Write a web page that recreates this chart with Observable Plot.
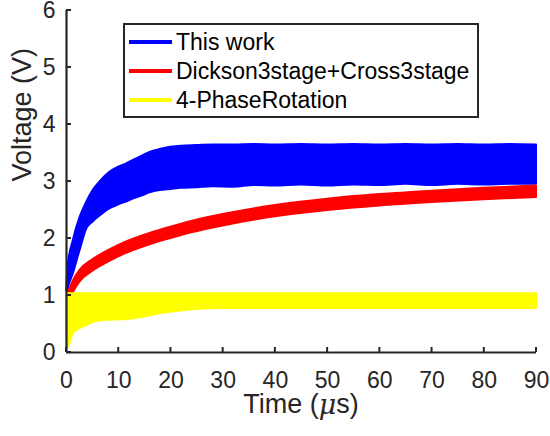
<!DOCTYPE html>
<html>
<head>
<meta charset="utf-8">
<script src="https://cdn.jsdelivr.net/npm/d3@7"></script>
<script src="https://cdn.jsdelivr.net/npm/@observablehq/plot@0.6"></script>
<style>
  html, body { margin: 0; padding: 0; background: #fff; }
  #chart svg { display: block; overflow: visible; }
</style>
</head>
<body>
<div id="chart"></div>
<script>
// ---- data ----
const seriesNames = ["This work", "Dickson3stage+Cross3stage", "4-PhaseRotation"];
const seriesColors = ["#0000ff", "#ff0000", "#ffff00"];

// "This work": envelope of the oscillating output (min / max)
const blueT    = [0, 0.3, 1.3, 2.6, 3.9, 5.1, 6.5, 8.3, 10, 11.5, 13, 14.6, 16, 17.9, 20, 22, 25, 28, 32, 36, 40, 45, 50, 55, 60, 65, 70, 75, 80, 85, 90];
const blueHigh = [1.0, 1.5, 1.96, 2.37, 2.64, 2.84, 3.0, 3.16, 3.25, 3.31, 3.38, 3.45, 3.51, 3.56, 3.6, 3.62, 3.63, 3.64, 3.64, 3.65, 3.64, 3.65, 3.64, 3.65, 3.64, 3.65, 3.64, 3.65, 3.64, 3.65, 3.64];
const blueLow  = [0.95, 1.1, 1.38, 1.79, 2.17, 2.29, 2.4, 2.52, 2.59, 2.64, 2.70, 2.75, 2.8, 2.84, 2.86, 2.88, 2.89, 2.91, 2.90, 2.93, 2.92, 2.94, 2.92, 2.94, 2.93, 2.95, 2.93, 2.95, 2.94, 2.95, 2.95];

// "Dickson3stage+Cross3stage": thick trace (lower / upper edge)
const redT    = [0, 0.3, 0.6, 1.3, 2.6, 5.1, 8.3, 11.5, 16, 20, 24, 30, 40, 50, 60, 70, 80, 90];
const redLow  = [0.35, 0.8, 0.92, 1.05, 1.24, 1.43, 1.6, 1.74, 1.89, 2.0, 2.1, 2.22, 2.38, 2.49, 2.57, 2.63, 2.68, 2.72];
const redHigh = [1.0, 1.05, 1.1, 1.25, 1.44, 1.63, 1.80, 1.94, 2.09, 2.2, 2.3, 2.42, 2.58, 2.69, 2.77, 2.83, 2.88, 2.92];

// "4-PhaseRotation": envelope
const yelT    = [0, 0.4, 1.3, 2.6, 3.9, 5.1, 7, 11.5, 14.6, 17.9, 21, 24.2, 30, 60, 90];
const yelLow  = [0.08, 0.1, 0.33, 0.42, 0.47, 0.53, 0.56, 0.58, 0.62, 0.68, 0.72, 0.75, 0.77, 0.77, 0.77];
const yelHigh = [1.05, 1.03, 1.03, 1.03, 1.03, 1.03, 1.03, 1.03, 1.03, 1.03, 1.03, 1.03, 1.03, 1.03, 1.03];

const xTicks = [0, 10, 20, 30, 40, 50, 60, 70, 80, 90];
const yTicks = [0, 1, 2, 3, 4, 5, 6];
const xLabel = "Time (";
const xLabelMu = "μ";
const xLabelEnd = "s)";
const yLabel = "Voltage (V)";

// ---- build tables ----
const toRows = (T, lo, hi) => T.map((t, i) => ({t, lo: lo[i], hi: hi[i]}));
const blue = toRows(blueT, blueLow, blueHigh);
const red = toRows(redT, redLow, redHigh);
const yel = toRows(yelT, yelLow, yelHigh);

const axisColor = "#262626";
const font = "'Liberation Sans', Arial, Helvetica, sans-serif";

const band = (data, color) => Plot.areaY(data, {
  x: "t", y1: "lo", y2: "hi", fill: color, stroke: color, strokeWidth: 2, strokeLinejoin: "round", curve: "monotone-x"
});

const plot = Plot.plot({
  width: 550,
  height: 436,
  marginLeft: 66,
  marginRight: 14,
  marginTop: 10,
  marginBottom: 84,
  style: {fontFamily: font, background: "#fff", color: axisColor},
  x: {domain: [0, 90]},
  y: {domain: [0, 6]},
  marks: [
    band(blue, seriesColors[0]),
    band(red, seriesColors[1]),
    band(yel, seriesColors[2]),
    // axis lines
    Plot.ruleY([0], {stroke: axisColor, strokeWidth: 2.2}),
    Plot.ruleX([0], {stroke: axisColor, strokeWidth: 2.2}),
    // tick labels
    Plot.axisX(xTicks, {tickSize: 0, tickPadding: 19, fontSize: 23, label: null, fill: axisColor, tickFormat: d => String(d)}),
    Plot.axisY(yTicks, {tickSize: 0, tickPadding: 11, fontSize: 23, label: null, fill: axisColor, tickFormat: d => String(d)}),
    // y axis title
    Plot.text([yLabel], {frameAnchor: "left", dx: -44, rotate: -90, fontSize: 27, fill: axisColor, fontFamily: font})
  ]
});

const svg = d3.select(plot);
const sx = plot.scale("x");
const sy = plot.scale("y");

// inward tick marks, positioned through Plot's scales
const tk = svg.append("g").attr("stroke", axisColor).attr("stroke-width", 2);
xTicks.forEach(v => {
  const px = sx.apply(v), py = sy.apply(0);
  tk.append("line").attr("x1", px).attr("x2", px).attr("y1", py).attr("y2", py - 5);
});
yTicks.forEach(v => {
  const px = sx.apply(0), py = sy.apply(v);
  tk.append("line").attr("x1", px).attr("x2", px + 5).attr("y1", py).attr("y2", py);
});

// x axis title with italic mu
const xt = svg.append("text")
  .attr("x", 301).attr("y", 404)
  .attr("text-anchor", "middle")
  .attr("dominant-baseline", "central")
  .attr("font-family", font)
  .attr("font-size", 27)
  .attr("fill", axisColor);
xt.append("tspan").text(xLabel);
xt.append("tspan").attr("font-style", "italic").attr("font-family", "'DejaVu Serif', serif").text(xLabelMu);
xt.append("tspan").text(xLabelEnd);

// legend
const lg = svg.append("g").attr("font-family", font).attr("font-size", 23).attr("text-anchor", "start");
lg.append("rect")
  .attr("x", 124).attr("y", 24).attr("width", 354).attr("height", 93)
  .attr("fill", "#fff").attr("stroke", axisColor).attr("stroke-width", 2);
seriesNames.forEach((name, i) => {
  const y = 42 + i * 29;
  lg.append("line").attr("x1", 129).attr("x2", 172).attr("y1", y).attr("y2", y)
    .attr("stroke", seriesColors[i]).attr("stroke-width", 4);
  lg.append("text").attr("x", 176).attr("y", y).attr("dominant-baseline", "central")
    .attr("text-anchor", "start").attr("fill", "#000").text(name);
});

document.getElementById("chart").appendChild(plot);
</script>
</body>
</html>
